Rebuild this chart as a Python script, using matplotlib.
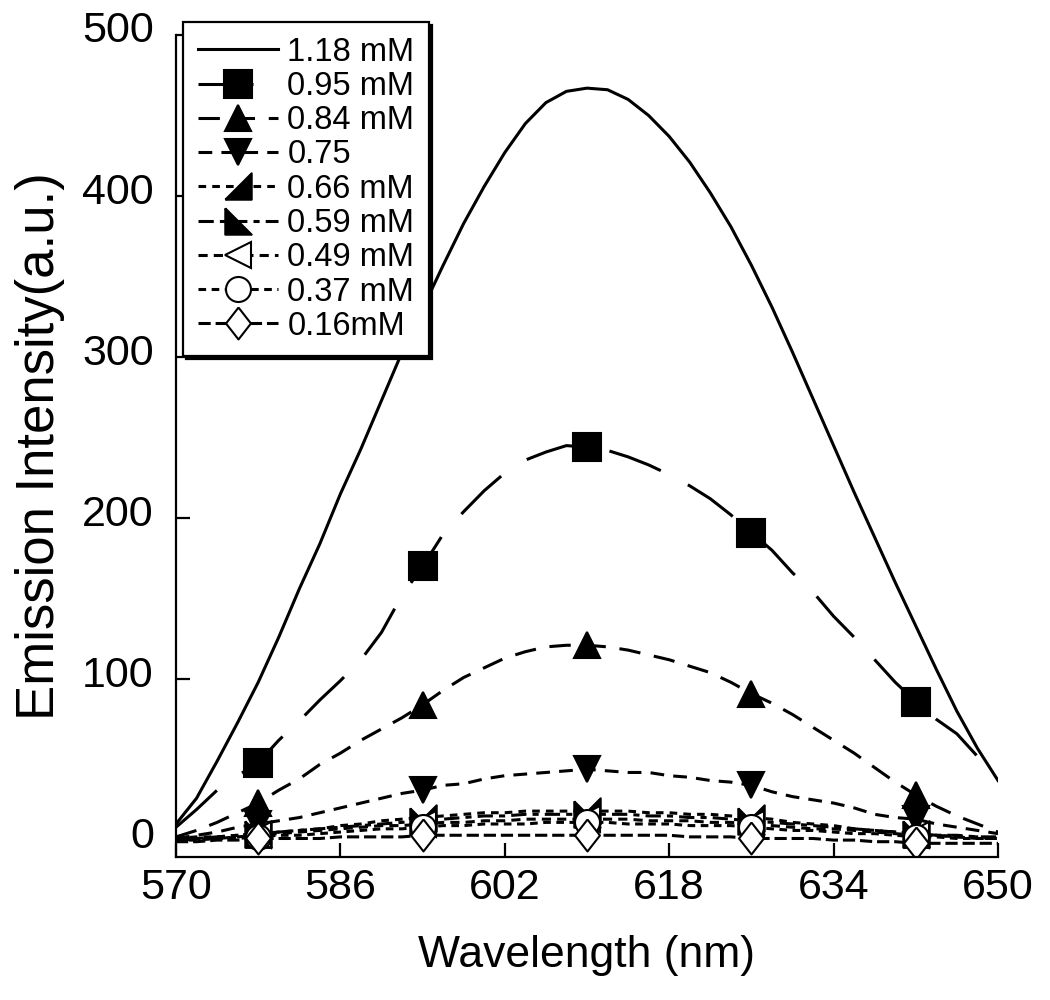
import matplotlib
matplotlib.use("Agg")
import matplotlib.pyplot as plt
from matplotlib.transforms import ScaledTranslation

plt.rcParams['font.family'] = ['Liberation Sans', 'DejaVu Sans']

wavelength = list(range(570, 651, 2))

s_118 = [10, 26, 49, 73, 98, 126, 156, 184, 215, 243, 273, 303, 330, 357, 383, 406, 427, 445, 458, 465,
         467, 466, 460, 450, 437, 421, 402, 381, 357, 331, 303, 274, 245, 216, 188, 160, 133, 106, 80, 57, 37]
s_095 = [8, 19, 31, 40, 48, 62, 74, 87, 99, 112, 129, 152, 170, 190, 204, 217, 228, 236, 241, 245,
         244, 242, 238, 233, 227, 220, 212, 202, 191, 180, 166, 154, 139, 126, 112, 98, 86, 75, 66, 52, 38]
s_084 = [2, 6, 11, 17, 23, 31, 38, 47, 54, 62, 69, 76, 84, 93, 101, 107, 113, 117, 120, 121,
         121, 120, 118, 115, 112, 108, 104, 98, 91, 85, 78, 70, 62, 54, 45, 36, 28, 21, 15, 10, 5]
s_075 = [1, 3, 5, 8, 10, 12, 14, 17, 20, 23, 26, 29, 31, 34, 35, 38, 40, 41, 42, 43,
         44, 43, 42, 42, 40, 39, 37, 36, 34, 30, 27, 25, 23, 20, 16, 14, 13, 10, 8, 6, 4]
s_066 = [1, 2, 2, 3, 4, 5, 6, 7, 9, 10, 12, 13, 14, 15, 16, 17, 17, 18, 18, 18,
         18, 18, 18, 17, 17, 16, 16, 15, 14, 13, 11, 10, 9, 7, 6, 5, 4, 3, 2, 1, 1]
s_059 = [1, 1, 2, 3, 4, 5, 6, 7, 8, 9, 10, 11, 12, 13, 14, 15, 15, 16, 16, 16,
         16, 16, 16, 15, 15, 14, 14, 13, 12, 11, 10, 9, 8, 7, 6, 5, 4, 3, 3, 2, 2]
s_049 = [0, 1, 1, 2, 3, 4, 5, 6, 7, 8, 9, 9, 10, 11, 11, 12, 12, 13, 13, 13,
         13, 13, 13, 12, 12, 12, 11, 11, 10, 9, 8, 7, 7, 6, 5, 4, 3, 3, 2, 2, 1]
s_037 = [0, 0, 1, 1, 2, 3, 3, 4, 5, 6, 7, 7, 8, 9, 9, 10, 10, 10, 11, 11,
         11, 11, 10, 10, 10, 9, 9, 9, 8, 7, 6, 6, 5, 4, 4, 3, 2, 2, 1, 1, 1]
s_016 = [-1, -1, 0, 0, 1, 1, 1, 1, 2, 2, 2, 2, 3, 3, 3, 3, 3, 3, 3, 3,
         3, 3, 3, 3, 3, 2, 2, 2, 1, 1, 1, 1, 0, 0, -1, -1, -2, -2, -2, -2, -2]

labels = ['1.18 mM', '0.95 mM', '0.84 mM', '0.75', '0.66 mM', '0.59 mM', '0.49 mM', '0.37 mM', '0.16mM']
x_ticks = [570, 586, 602, 618, 634, 650]
y_ticks = [0, 100, 200, 300, 400, 500]

tri_lr = [(-1, -1), (1, -1), (1, 1), (-1, -1)]     # filled lower-right
tri_ll = [(-1, 1), (-1, -1), (1, -1), (-1, 1)]     # filled lower-left
diamond = [(0, 1), (0.78, 0), (0, -1), (-0.78, 0), (0, 1)]

series = [s_118, s_095, s_084, s_075, s_066, s_059, s_049, s_037, s_016]
styles = [
    dict(ls='-', marker=None),
    dict(ls=(0, (18, 10)), marker='s', ms=20, mfc='black'),
    dict(ls=(0, (7, 4.5)), marker='^', ms=19, mfc='black'),
    dict(ls=(0, (4.5, 3)), marker='v', ms=19, mfc='black'),
    dict(ls=(0, (2.5, 2)), marker=tri_lr, ms=19, mfc='black'),
    dict(ls=(0, (5, 2, 2, 2)), marker=tri_ll, ms=19, mfc='black'),
    dict(ls=(0, (3, 2)), marker='<', ms=19, mfc='white'),
    dict(ls=(0, (2.5, 1.8)), marker='o', ms=18, mfc='white'),
    dict(ls=(0, (4, 1.6)), marker=diamond, ms=23, mfc='white'),
]

fig = plt.figure(figsize=(10.5, 10), dpi=100)
ax = fig.add_axes([176 / 1050, 143 / 1000, (998 - 176) / 1050, (857 - 35) / 1000])

for ys, lab, st in zip(series, labels, styles):
    kw = dict(color='black', lw=2.2, label=lab, mec='black', mew=1.5)
    if st.get('marker') is not None:
        kw.update(marker=st['marker'], ms=st['ms'], mfc=st['mfc'], markevery=slice(4, None, 8))
    ax.plot(wavelength, ys, linestyle=st['ls'], **kw)

ax.set_xlim(570, 650)
ax.set_ylim(-10.5, 500)
ax.set_xticks(x_ticks)
ax.set_yticks(y_ticks)
for sp in ['top', 'right']:
    ax.spines[sp].set_visible(False)
for sp in ['left', 'bottom']:
    ax.spines[sp].set_linewidth(1.6)
ax.tick_params(axis='both', direction='in', length=10, width=1.6, labelsize=31)
ax.tick_params(axis='x', pad=8)
ax.tick_params(axis='y', pad=16)
for lab in ax.get_yticklabels():
    lab.set_transform(lab.get_transform() + ScaledTranslation(0, 8 / 100, fig.dpi_scale_trans))

ax.set_xlabel('Wavelength (nm)', fontsize=32, labelpad=19)
ax.set_ylabel('Emission Intensity(a.u.)', fontsize=38, labelpad=12)

leg = ax.legend(loc='upper left', bbox_to_anchor=(183 / 1050, 1 - 22 / 1000),
                bbox_transform=fig.transFigure, borderaxespad=0, fontsize=23.5,
                handlelength=2.45, handletextpad=0.3, labelspacing=0.1, borderpad=0.45,
                fancybox=False, framealpha=1, edgecolor='black',
                shadow={'color': 'black', 'alpha': 1})
leg.get_frame().set_linewidth(1.6)

fig.savefig('out.png', dpi=100)
